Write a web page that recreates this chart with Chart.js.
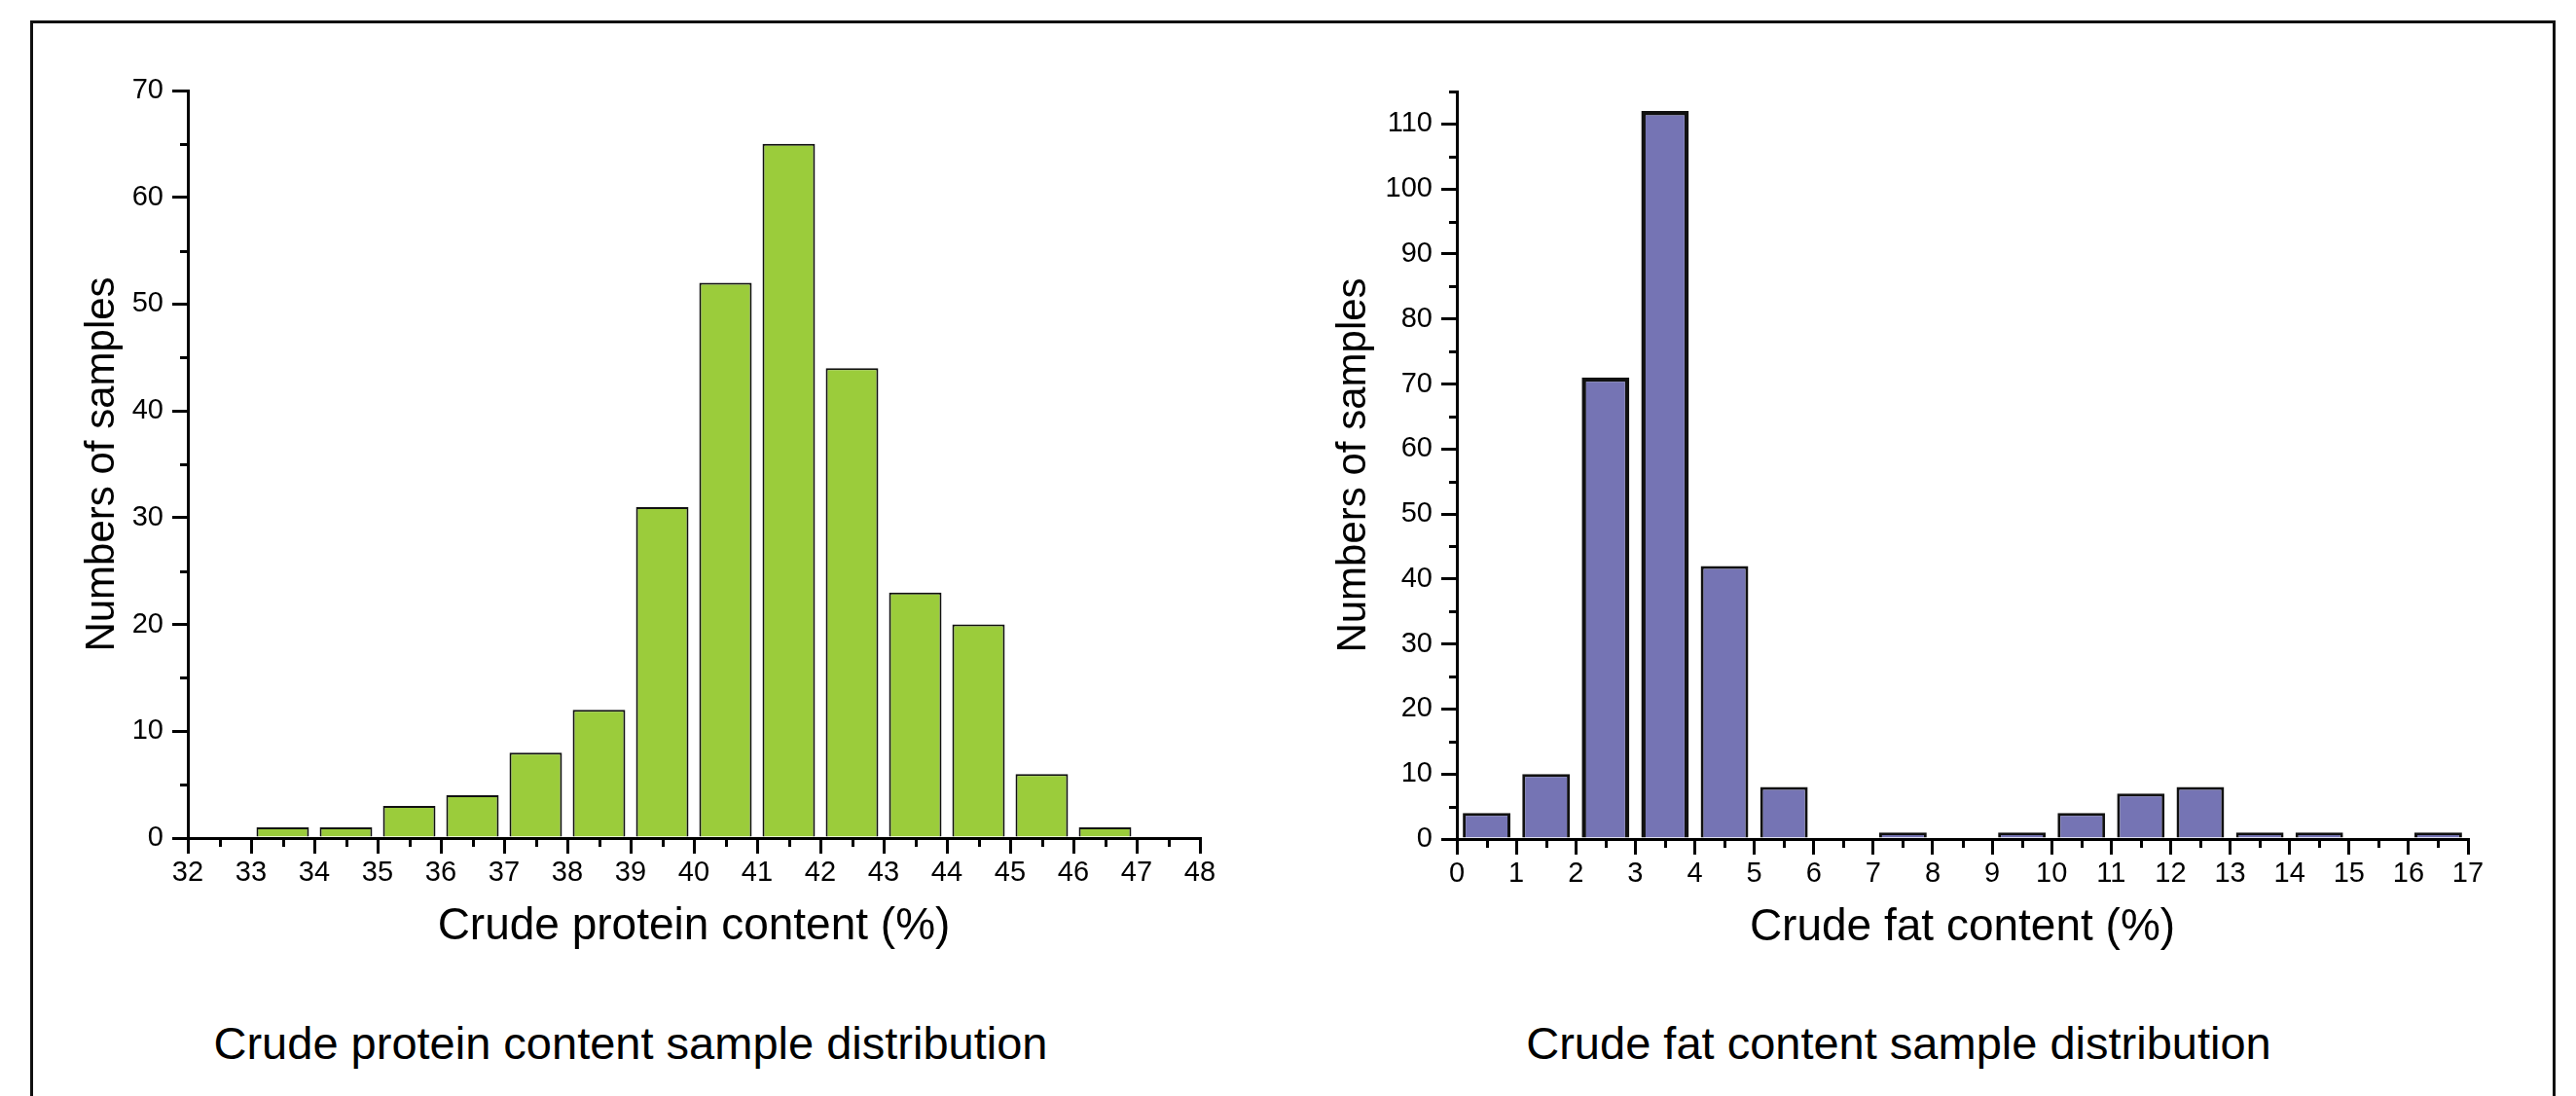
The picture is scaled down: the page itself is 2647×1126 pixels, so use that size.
<!DOCTYPE html>
<html>
<head>
<meta charset="utf-8">
<title>Crude protein / fat distribution</title>
<script src="https://cdn.jsdelivr.net/npm/chart.js@4.4.1/dist/chart.umd.min.js"></script>
<style>
    body { margin: 0; width: 2647px; height: 1126px; overflow: hidden; background: #fff; font-family: 'Liberation Sans', Arial, sans-serif; }
    #frame { position: absolute; left: 31px; top: 21px; width: 2589px; height: 1200px; border: 3px solid #111; }
    canvas { position: absolute; top: 0; }
    #proteinChart { left: 0; }
    #fatChart { left: 1320px; }
    .caption { position: absolute; top: 1048px; font-size: 47px; line-height: 47px; white-space: nowrap; transform: translateX(-50%); color: #000; }
</style>
</head>
<body>
<div id="frame"></div>
<canvas id="proteinChart" width="1320" height="1010"></canvas>
<canvas id="fatChart" width="1327" height="1010"></canvas>
<div class="caption" style="left:648px">Crude protein content sample distribution</div>
<div class="caption" style="left:1951px">Crude fat content sample distribution</div>

<script>
// Dados: limite inferior de cada classe e contagem
const proteinBins = [32, 33, 34, 35, 36, 37, 38, 39, 40, 41, 42, 43, 44, 45, 46, 47];
const proteinCounts = [0, 1, 1, 3, 4, 8, 12, 31, 52, 65, 44, 23, 20, 6, 1, 0];

const fatBins = [0, 1, 2, 3, 4, 5, 6, 7, 8, 9, 10, 11, 12, 13, 14, 15, 16];
const fatCounts = [4, 10, 71, 112, 42, 8, 0, 1, 0, 1, 4, 7, 8, 1, 1, 0, 1];

// Marcas menores dos eixos
const proteinMinorX = [32.5, 33.5, 34.5, 35.5, 36.5, 37.5, 38.5, 39.5, 40.5, 41.5, 42.5, 43.5, 44.5, 45.5, 46.5, 47.5];
const proteinMinorY = [5, 15, 25, 35, 45, 55, 65];
const fatMinorX = [0.5, 1.5, 2.5, 3.5, 4.5, 5.5, 6.5, 7.5, 8.5, 9.5, 10.5, 11.5, 12.5, 13.5, 14.5, 15.5, 16.5];
const fatMinorY = [5, 15, 25, 35, 45, 55, 65, 75, 85, 95, 105, 115];

const FONT = "'Liberation Sans', Arial, sans-serif";

// Plugin para desenhar as marcas menores (metade do tamanho)
const minorTicks = {
    id: 'minorTicks',
    afterDraw(chart, args, opts) {
        const ctx = chart.ctx;
        const xs = chart.scales.x;
        const ys = chart.scales.y;
        ctx.save();
        ctx.strokeStyle = '#000';
        ctx.lineWidth = 3;
        ctx.beginPath();
        opts.x.forEach(v => {
            const px = Math.round(xs.getPixelForValue(v)) + 0.5;
            ctx.moveTo(px, xs.top);
            ctx.lineTo(px, xs.top + 9);
        });
        opts.y.forEach(v => {
            const py = Math.round(ys.getPixelForValue(v)) + 0.5;
            ctx.moveTo(ys.right, py);
            ctx.lineTo(ys.right - 8, py);
        });
        ctx.stroke();
        ctx.restore();
    }
};

// Função para montar um histograma
function makeHistogram(canvasId, cfg) {
    const points = cfg.bins.map((b, i) => ({ x: b + 0.5, y: cfg.counts[i] === 0 ? null : cfg.counts[i] }));

    return new Chart(document.getElementById(canvasId), {
        type: 'bar',
        data: {
            datasets: [{
                data: points,
                backgroundColor: cfg.color,
                borderColor: '#111',
                borderWidth: cfg.borderWidth,
                categoryPercentage: 1,
                barPercentage: cfg.barPercentage
            }]
        },
        plugins: [minorTicks],
        options: {
            responsive: false,
            animation: false,
            layout: { padding: cfg.padding },
            plugins: {
                legend: { display: false },
                tooltip: { enabled: false },
                minorTicks: { x: cfg.minorX, y: cfg.minorY }
            },
            scales: {
                x: {
                    type: 'linear',
                    min: cfg.xMin,
                    max: cfg.xMax,
                    offset: false,
                    afterFit: s => { s.height = 124; },
                    grid: { offset: false, drawOnChartArea: false, tickLength: 16, tickWidth: 3, tickColor: '#000', lineWidth: 3, color: '#000' },
                    border: { display: true, color: '#000', width: 3 },
                    ticks: { stepSize: 1, autoSkip: false, maxRotation: 0, padding: 3, color: '#000', font: { family: FONT, size: 29 } },
                    title: { display: true, text: cfg.xTitle, color: '#000', font: { family: FONT, size: 46 }, padding: { top: 0, bottom: 5 } }
                },
                y: {
                    min: 0,
                    max: cfg.yMax,
                    bounds: 'data',
                    afterFit: s => { s.width = cfg.yWidth; },
                    // só as marcas principais de 10 em 10 (o topo 115 fica sem rótulo)
                    afterBuildTicks: s => { s.ticks = s.ticks.filter(t => t.value % 10 === 0); },
                    grid: { drawOnChartArea: false, tickLength: 16, tickWidth: 3, tickColor: '#000', lineWidth: 3, color: '#000' },
                    border: { display: true, color: '#000', width: 3 },
                    ticks: { stepSize: 10, padding: 9, color: '#000', font: { family: FONT, size: 29 } },
                    title: { display: true, text: 'Numbers of samples', color: '#000', font: { family: FONT, size: 42 }, padding: { top: cfg.yTitlePad, bottom: 0 } }
                }
            }
        }
    });
}

makeHistogram('proteinChart', {
    bins: proteinBins,
    counts: proteinCounts,
    color: '#9bcc3b',
    borderWidth: 2,
    barPercentage: 0.83,
    xMin: 32, xMax: 48, yMax: 70,
    minorX: proteinMinorX, minorY: proteinMinorY,
    xTitle: 'Crude protein content (%)',
    padding: { left: 60, top: 93, right: 87, bottom: 25 },
    yWidth: 133,
    yTitlePad: 20
});

makeHistogram('fatChart', {
    bins: fatBins,
    counts: fatCounts,
    color: '#7574b4',
    borderWidth: ctx => (ctx.dataIndex === 2 || ctx.dataIndex === 3) ? 4.5 : 3,
    barPercentage: 0.8,
    xMin: 0, xMax: 17, yMax: 115,
    minorX: fatMinorX, minorY: fatMinorY,
    xTitle: 'Crude fat content (%)',
    padding: { left: 30, top: 94, right: 111, bottom: 24 },
    yWidth: 147,
    yTitlePad: 16
});
</script>
</body>
</html>
